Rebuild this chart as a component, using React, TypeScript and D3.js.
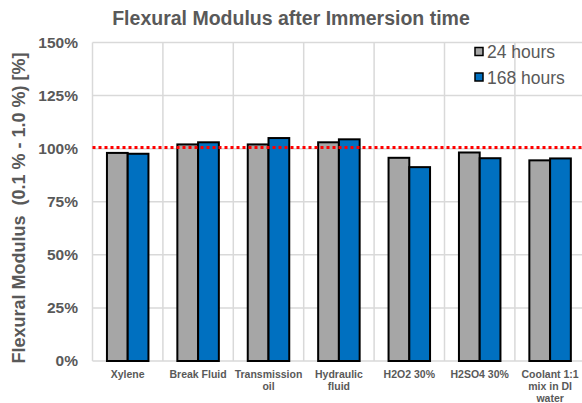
import React from "react";
import * as d3 from "d3";

const categories = [
  ["Xylene"],
  ["Break Fluid"],
  ["Transmission", "oil"],
  ["Hydraulic", "fluid"],
  ["H2O2 30%"],
  ["H2SO4 30%"],
  ["Coolant 1:1", "mix in DI", "water"],
];
const series = ["24 hours", "168 hours"];
const values24 = [98.0, 102.0, 102.0, 103.0, 95.7, 98.2, 94.5];
const values168 = [97.6, 103.0, 105.0, 104.4, 91.3, 95.5, 95.4];
const yTicks = [0, 25, 50, 75, 100, 125, 150];
const refLine = 100.6;
const colors = ["#a6a6a6", "#0070c0"];

export default function App() {
  const W = 582, H = 403;
  const left = 92.5, top = 42.5, bottom = 361;
  const band = 70.4;
  const right = left + band * categories.length;
  const y = d3.scaleLinear().domain([0, 150]).range([bottom, top]);
  const x = d3.scaleBand<number>().domain(d3.range(categories.length)).range([left, right]).paddingInner(0).paddingOuter(0);
  const x1 = d3.scaleBand<number>().domain([0, 1]).range([0, 41.5]);
  const barOffset = (band - 41.5) / 2;
  const font = "'Liberation Sans', Arial, sans-serif";
  const grey = "#595959";
  const data = [values24, values168];
  return (
    <svg width={W} height={H} style={{ position: "absolute", left: 0, top: 0 }} fontFamily={font}>
      <rect width={W} height={H} fill="#fff" />
      <text x={291} y={25} textAnchor="middle" fontSize={19.5} fontWeight="bold" fill={grey}>
        Flexural Modulus after Immersion time
      </text>
      {yTicks.map((t) => (
        <line key={t} x1={left} x2={right} y1={y(t)} y2={y(t)} stroke="#d9d9d9" strokeWidth={1.5} />
      ))}
      {d3.range(categories.length + 1).map((i) => (
        <line key={i} x1={left + i * band} x2={left + i * band} y1={top} y2={bottom} stroke="#d9d9d9" strokeWidth={1.5} />
      ))}
      {yTicks.map((t) => (
        <text key={t} x={78} y={y(t) + 5} textAnchor="end" fontSize={15.5} fontWeight="bold" fill={grey}>
          {t}%
        </text>
      ))}
      <text
        transform={`translate(25,208) rotate(-90)`}
        textAnchor="middle"
        fontSize={18}
        fontWeight="bold"
        fill={grey}
        style={{ whiteSpace: "pre" }}
      >
        {"Flexural Modulus  (0.1 % - 1.0 %) [%]"}
      </text>
      {data.map((vals, s) =>
        vals.map((v, i) => (
          <rect
            key={`${s}-${i}`}
            x={(x(i) as number) + barOffset + (x1(s) as number)}
            y={y(v)}
            width={x1.bandwidth()}
            height={bottom - y(v)}
            fill={colors[s]}
            stroke="#000"
            strokeWidth={2}
          />
        ))
      )}
      <line x1={left} x2={right} y1={y(refLine)} y2={y(refLine)} stroke="#ff0000" strokeWidth={3} strokeDasharray="3 3" />
      {categories.map((lines, i) => (
        <text key={i} textAnchor="middle" fontSize={10.5} fontWeight="bold" fill={grey}>
          {lines.map((l, j) => (
            <tspan key={j} x={(x(i) as number) + band / 2} y={378 + j * 12}>
              {l}
            </tspan>
          ))}
        </text>
      ))}
      {series.map((s, i) => (
        <g key={s} transform={`translate(475,${52 + i * 25.5})`}>
          <rect x={0} y={-4.5} width={8} height={8} fill={colors[i]} stroke="#000" strokeWidth={1.5} />
          <text x={12} y={6} fontSize={17.5} fill={grey}>
            {s}
          </text>
        </g>
      ))}
    </svg>
  );
}
